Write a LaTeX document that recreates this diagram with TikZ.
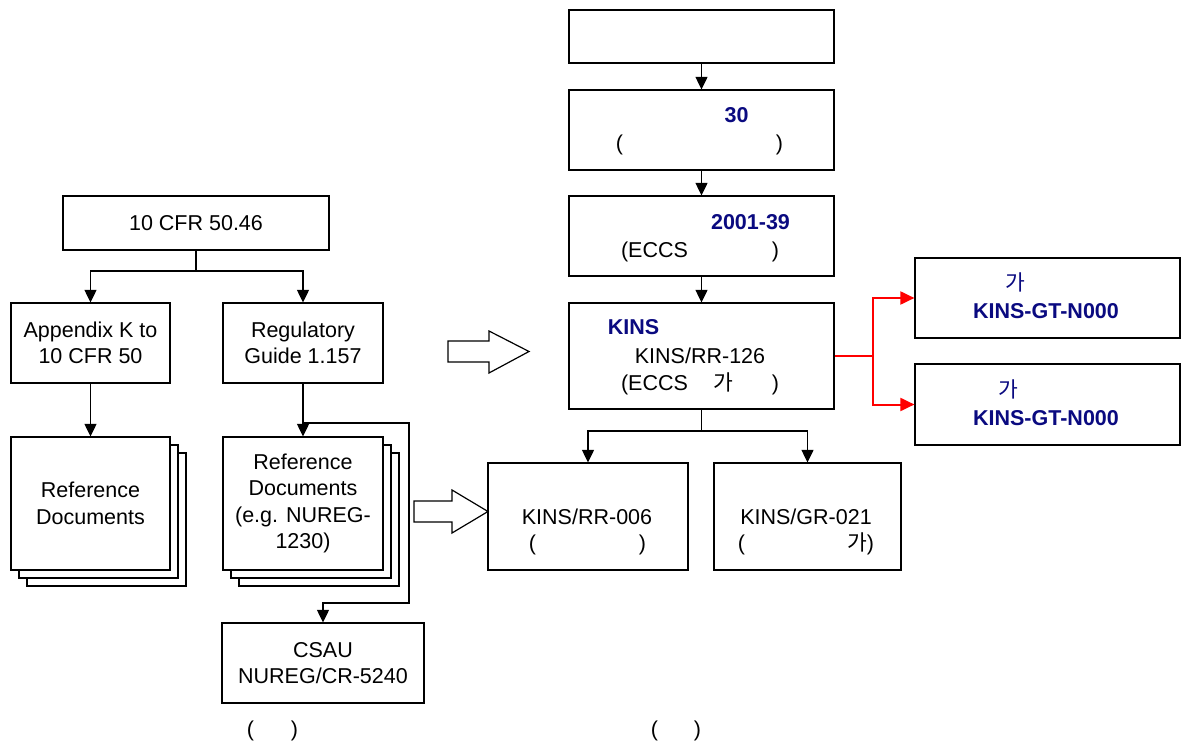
\documentclass[tikz,border=0pt]{standalone}
\usepackage{fontspec}
\setmainfont{Liberation Sans}
\newfontfamily\kr{Noto Sans CJK KR}
\usetikzlibrary{arrows.meta}
\definecolor{navy}{RGB}{10,10,128}
\begin{document}
\begin{tikzpicture}[x=1pt,y=-1pt,
  every node/.style={font=\fontsize{21.5}{26.6}\selectfont, inner sep=0pt},
  box/.style={draw, line width=1.2pt, fill=white, align=center},
  txt/.style={anchor=base},
  bl/.style={txt, text=navy, font=\fontsize{21.5}{26.6}\selectfont\bfseries},
  line/.style={line width=1.2pt},
  arr/.style={line, -{Triangle[length=12.5pt,width=12pt]}},
  rarr/.style={draw=red, line width=2pt, -{Triangle[length=14pt,width=13pt]}},
  layer/.style={draw, line width=1.2pt, fill=white},
  blockarrow/.style={draw, line width=1.2pt, fill=white, line join=miter}]
\useasboundingbox (0,0) rectangle (1181,751);

% ---------------- right column ----------------
\node[box, minimum width=265pt, minimum height=53pt] (top) at (701.5,36.5) {};
\node[box, minimum width=265pt, minimum height=80pt] (b30) at (701.5,130) {};
\node[box, minimum width=265pt, minimum height=80pt] (b2001) at (701.5,236) {};
\node[box, minimum width=265pt, minimum height=106pt] (bkins) at (701.5,356) {};
\node[box, minimum width=200pt, minimum height=107pt] (rr006) at (588,516.5) {};
\node[box, minimum width=187pt, minimum height=107pt] (gr021) at (807.5,516.5) {};
\node[box, minimum width=265pt, minimum height=80pt] (gt1) at (1047.5,298) {};
\node[box, minimum width=265pt, minimum height=81pt] (gt2) at (1047.5,404.5) {};

% texts of right column
\node[bl] (t30) at (736.5,123) {30};
\node[txt] (t30a) at (619.5,150.5) {(};
\node[txt] (t30b) at (779.5,150.5) {)};
\node[bl] (t2001) at (750.5,230) {2001-39};
\node[txt] (t2001a) at (654.5,258) {(ECCS};
\node[txt] (t2001b) at (775.5,258) {)};
\node[bl] (tkins) at (633.5,335) {KINS};
\node[txt] (tkins2) at (700,363.3) {KINS/RR-126};
\node[txt] (tkins3) at (654.5,390) {(ECCS};
\node[txt] (tkins4) at (723.5,390) {\kr 가};
\node[txt] (tkins5) at (775.5,390) {)};
\node[txt, text=navy] (tg1a) at (1015,291) {\kr 가};
\node[bl] (tg1b) at (1046,319) {KINS-GT-N000};
\node[txt, text=navy] (tg2a) at (1008,397) {\kr 가};
\node[bl] (tg2b) at (1046,425) {KINS-GT-N000};
\node[txt] (trr1) at (587,524) {KINS/RR-006};
\node[txt] (trr2) at (532.5,550.5) {(};
\node[txt] (trr3) at (642.5,550.5) {)};
\node[txt] (tgr1) at (806,524) {KINS/GR-021};
\node[txt] (tgr2) at (741.5,550.5) {(};
\node[txt] (tgr3) at (860.5,550.5) {{\kr 가})};

% connectors right column
\draw[arr] (top.south) -- (b30.north);
\draw[arr] (b30.south) -- (b2001.north);
\draw[arr] (b2001.south) -- (bkins.north);
\coordinate (kb) at (701.5,431);
\draw[line] (bkins.south) -- (kb);
\draw[arr] (kb) -| (rr006.north);
\draw[arr] (kb) -| (gr021.north);
\coordinate (rj) at (873,356);
\draw[draw=red, line width=2pt] (bkins.east) -- (rj);
\draw[rarr] (rj) |- (gt1.west);
\draw[rarr] (rj) |- (gt2.west);

% ---------------- left column ----------------
\node[box, minimum width=266pt, minimum height=54pt] (cfr) at (196,223) {10 CFR 50.46};
\node[box, minimum width=159pt, minimum height=80pt] (appk) at (90.5,343) {Appendix K to\\10 CFR 50};
\node[box, minimum width=160pt, minimum height=80pt] (rg) at (303,343) {Regulatory\\Guide 1.157};

% stacked document layers
\foreach \d in {16,8}{
  \draw[layer] (11+\d,437+\d) rectangle (170+\d,570+\d);
  \draw[layer] (223+\d,437+\d) rectangle (383+\d,570+\d);
}
\node[box, minimum width=159pt, minimum height=133pt] (ref1) at (90.5,503.5) {Reference\\Documents};
\node[box, minimum width=160pt, minimum height=133pt] (ref2) at (303,503.5) {Reference\\Documents\\(e.g. NUREG-\\1230)};
\node[box, minimum width=202pt, minimum height=80pt] (csau) at (323,663) {CSAU\\NUREG/CR-5240};

% connectors left column
\coordinate (cb) at (196,271);
\draw[line] (cfr.south) -- (cb);
\draw[arr] (cb) -| (appk.north);
\draw[arr] (cb) -| (rg.north);
\draw[arr] (appk.south) -- (ref1.north);
\draw[arr] (rg.south) -- (ref2.north);
\coordinate (bp) at (303,423);
\coordinate (bp2) at (409,603);
\draw[arr] (bp) -| (bp2) -| (csau.north);

% bottom captions
\node[txt] (cl1) at (250.5,736) {(};
\node[txt] (cl2) at (294.5,736) {)};
\node[txt] (cr1) at (654.5,736) {(};
\node[txt] (cr2) at (697.5,736) {)};

% block arrows
\draw[blockarrow] (448,341) -- (489,341) -- (489,331) -- (529,351.5) -- (489,373) -- (489,362) -- (448,362) -- cycle;
\draw[blockarrow] (414,501) -- (452,501) -- (452,490) -- (488,511.5) -- (452,533) -- (452,522) -- (414,522) -- cycle;
\end{tikzpicture}
\end{document}
